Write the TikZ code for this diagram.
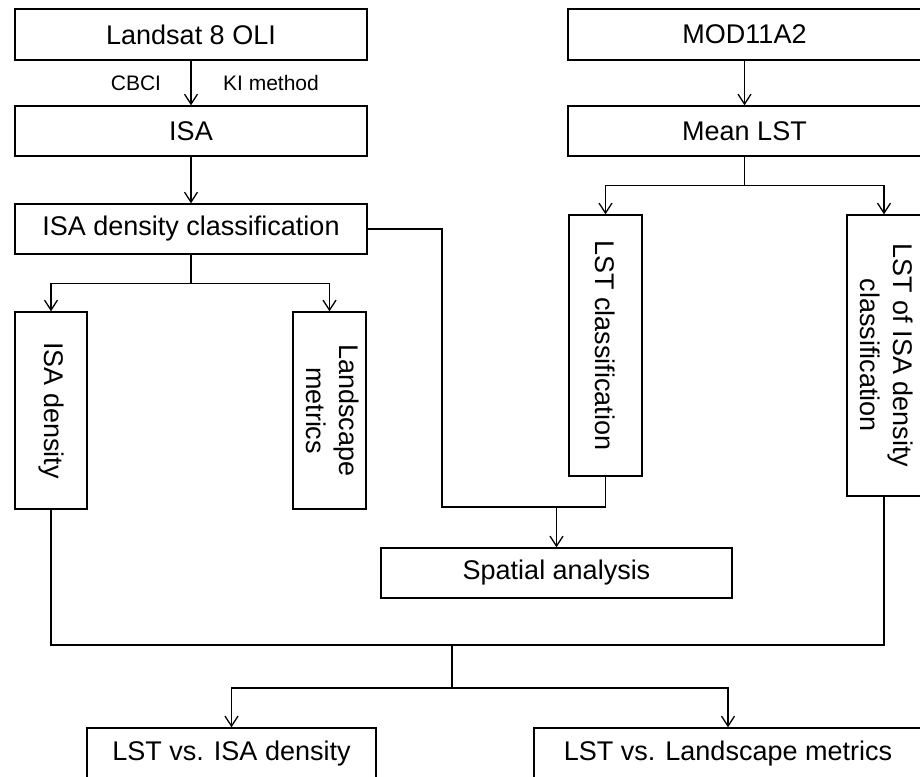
\documentclass[tikz,border=0pt]{standalone}
\usepackage{fontspec}
\setmainfont{Liberation Sans}
\usepackage{graphicx}
\usetikzlibrary{arrows.meta}

\begin{document}
\begin{tikzpicture}[x=1pt,y=-1pt,
  box/.style={draw, line width=1.4pt, inner sep=0pt, align=center,
              font=\fontsize{27}{33}\selectfont},
  lbl/.style={inner sep=0pt, font=\fontsize{21}{25}\selectfont},
  link/.style={line width=1.3pt},
  arr/.style={link, -{Straight Barb[length=10pt,width=13pt,line width=1.3pt]}}
]
\clip (0,0) rectangle (920,776);

% left column: Landsat processing chain
\node[box, minimum width=352pt, minimum height=51pt] (landsat) at (191,34.5) {Landsat 8 OLI};
\node[box, minimum width=352pt, minimum height=50pt] (isa) at (191,131) {ISA};
\node[box, minimum width=352pt, minimum height=50pt] (isacls) at (191,229) {ISA density classification};
\node[box, minimum width=72pt, minimum height=197pt] (isaden) at (51,410.5)
  {\rotatebox{-90}{ISA density}};
\node[box, minimum width=73pt, minimum height=197pt] (land) at (329.5,410.5)
  {\rotatebox{-90}{\begin{tabular}{@{}c@{}}Landscape\\metrics\end{tabular}}};

\node[lbl] (cbci) at (136,83) {CBCI};
\node[lbl] (ki) at (271,83) {KI method};

% right column: MODIS processing chain
\node[box, minimum width=353pt, minimum height=51pt] (mod) at (744.5,34.5) {MOD11A2};
\node[box, minimum width=353pt, minimum height=50pt] (mean) at (744.5,131) {Mean LST};
\node[box, minimum width=73pt, minimum height=261pt] (lstcls) at (605.5,345.5)
  {\rotatebox{-90}{LST classification}};
\node[box, minimum width=74pt, minimum height=281pt] (lstisa) at (884,355.5)
  {\rotatebox{-90}{\begin{tabular}{@{}c@{}}LST of ISA density\\classification\end{tabular}}};

% analysis and results
\node[box, minimum width=351pt, minimum height=50pt] (spatial) at (556.5,573) {Spatial analysis};
\node[box, minimum width=289pt, minimum height=52pt] (vsisa) at (231.5,754) {LST vs. ISA density};
\node[box, minimum width=388pt, minimum height=52pt] (vsland) at (728,754) {LST vs. Landscape metrics};

% connectors
\draw[arr] (landsat.south) -- (isa.north);
\draw[arr] (isa.south) -- (isacls.north);
\draw[link] (isacls.south) -- ++(0,29) coordinate (b1);
\draw[arr] (b1) -| (isaden.north);
\draw[arr] (b1) -| (land.north);

\draw[arr] (mod.south) -- (mean.north);
\draw[link] (mean.south) -- ++(0,29) coordinate (b2);
\draw[arr] (b2) -| (lstcls.north);
\draw[arr] (b2) -| (lstisa.north);

\coordinate (j1) at (442,507);
\draw[link] (isacls.east) -| (j1) -- (lstcls.south |- j1) -- (lstcls.south);
\draw[arr] (spatial.north |- j1) -- (spatial.north);

\coordinate (j2) at (452,645);
\draw[link] (isaden.south) |- (j2) -| (lstisa.south);
\draw[link] (j2) -- ++(0,43) coordinate (b3);
\draw[arr] (b3) -| (vsisa.north);
\draw[arr] (b3) -| (vsland.north);
\end{tikzpicture}
\end{document}
